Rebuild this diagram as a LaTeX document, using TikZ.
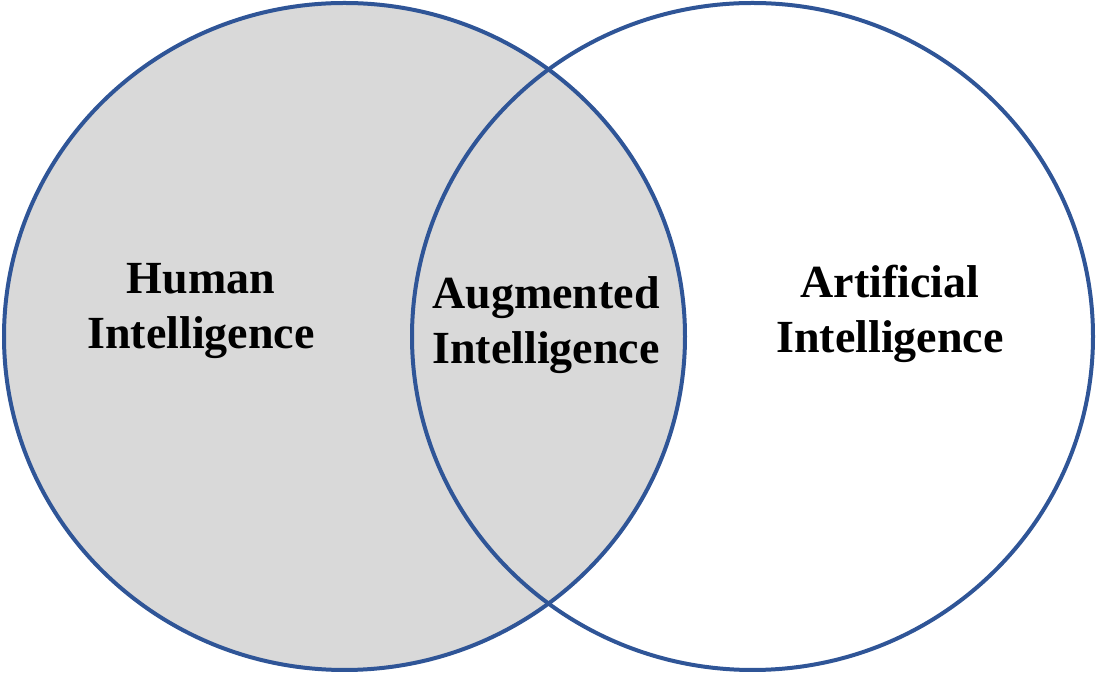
\documentclass[tikz,border=0pt]{standalone}
\usepackage{fontspec}
\setmainfont{Liberation Serif}
\definecolor{ringblue}{HTML}{2F5597}
\definecolor{fillgray}{HTML}{D9D9D9}
\tikzset{
  ring/.style={draw=ringblue, line width=4pt},
  label/.style={align=center, inner sep=0pt, font=\fontsize{46}{55}\selectfont\bfseries}
}
\begin{document}
\begin{tikzpicture}[x=1pt,y=1pt]
\useasboundingbox (0,0) rectangle (1096,674);
\fill[fillgray] (344.5,337.5) ellipse [x radius=340.5, y radius=333.5];
\draw[ring] (344.5,337.5) ellipse [x radius=340.5, y radius=333.5];
\draw[ring] (752.5,337.5) ellipse [x radius=340.5, y radius=333.5];
\node[label] (human) at (201,363) {Human\\Intelligence};
\node[label] (aug) at (546,349) {Augmented\\Intelligence};
\node[label] (art) at (890,360) {Artificial\\Intelligence};
\end{tikzpicture}
\end{document}
